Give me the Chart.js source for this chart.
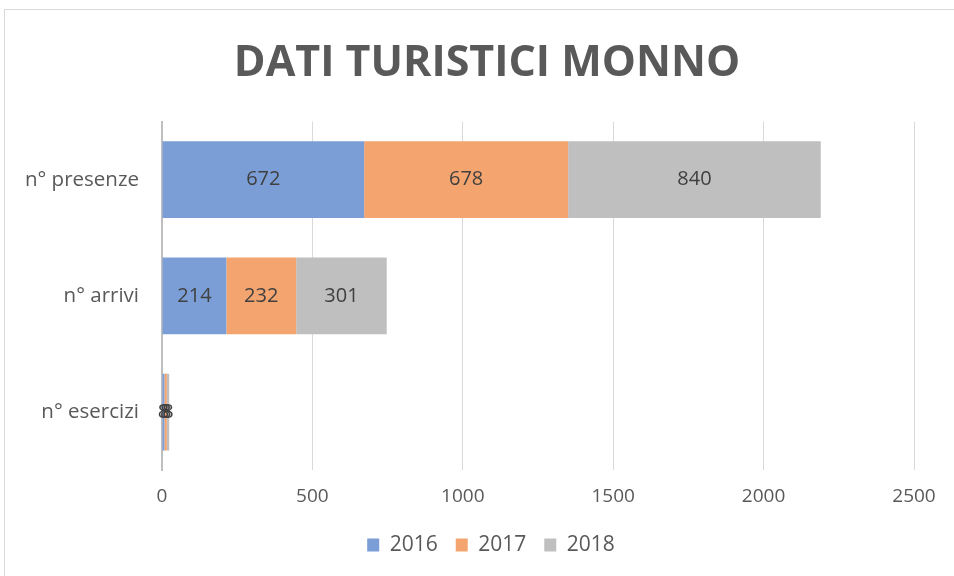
<!DOCTYPE html>
<html>
<head>
<meta charset="utf-8">
<script src="https://cdn.jsdelivr.net/npm/chart.js@4/dist/chart.umd.min.js"></script>
<style>
  html, body { margin: 0; padding: 0; background: #fff; }
  #wrap { position: relative; width: 954px; height: 576px; overflow: hidden; }
  #frame { position: absolute; left: 4px; top: 9px; width: 960px; height: 580px; border: 1px solid #d9d9d9; box-sizing: border-box; pointer-events: none; }
  canvas { position: absolute; left: 0; top: 0; }
</style>
</head>
<body>
<div id="wrap">
  <div id="frame"></div>
  <canvas id="chart" width="954" height="576"></canvas>
</div>
<script>
  // dati
  const categories = ['n° presenze', 'n° arrivi', 'n° esercizi'];
  const years = ['2016', '2017', '2018'];
  const values2016 = [672, 214, 8];
  const values2017 = [678, 232, 8];
  const values2018 = [840, 301, 8];
  const xTicks = [0, 500, 1000, 1500, 2000, 2500];

  const colors = ['#7b9ed7', '#f4a56f', '#bfbfbf'];
  const FONT = '"Open Sans", "Liberation Sans", sans-serif';
  const LEGEND_PAD = 18;
  const LEGEND_FONT = 21;

  // etichette dati al centro di ogni segmento
  const barLabels = {
    id: 'barLabels',
    afterDatasetsDraw(chart) {
      const ctx = chart.ctx;
      ctx.save();
      ctx.font = '20px ' + FONT;
      ctx.fillStyle = '#404040';
      ctx.textAlign = 'center';
      ctx.textBaseline = 'middle';
      chart.data.datasets.forEach((ds, i) => {
        chart.getDatasetMeta(i).data.forEach((bar, j) => {
          const cx = (bar.x + bar.base) / 2;
          ctx.fillText(String(ds.data[j]), cx, bar.y);
        });
      });
      ctx.restore();
    }
  };

  // piccoli ritocchi di posizione per titolo e legenda
  const nudge = {
    id: 'nudge',
    afterLayout(chart) {
      const t = chart.titleBlock;
      if (t) { t.left += 20; t.right += 20; }
      const l = chart.legend;
      if (l) {
        l.top = 545 - LEGEND_PAD - LEGEND_FONT / 2;
        l.bottom = l.top + 2 * LEGEND_PAD + LEGEND_FONT + 4;
        l.left += 24; l.right += 24;
      }
    }
  };

  const seriesData = [values2016, values2017, values2018];

  new Chart(document.getElementById('chart'), {
    type: 'bar',
    data: {
      labels: categories,
      datasets: years.map((y, i) => ({
        label: y,
        data: seriesData[i],
        backgroundColor: colors[i],
        borderWidth: 0,
        barPercentage: 0.66,
        categoryPercentage: 1.0,
      }))
    },
    options: {
      indexAxis: 'y',
      responsive: false,
      animation: false,
      layout: { padding: { left: 20, right: 40, top: 0, bottom: 33 } },
      scales: {
        x: {
          stacked: true,
          min: 0,
          max: 2500,
          afterBuildTicks: s => { s.ticks = xTicks.map(v => ({ value: v })); },
          grid: { color: '#d9d9d9', drawTicks: false, lineWidth: 1 },
          border: { display: false },
          ticks: {
            color: '#595959',
            font: { family: FONT, size: 19 },
            padding: 15,
            callback: v => String(v)
          }
        },
        y: {
          stacked: true,
          grid: { display: false, drawTicks: false },
          border: { display: true, color: '#bfbfbf', width: 2 },
          ticks: { color: '#595959', font: { family: FONT, size: 20.5 }, padding: 23 },
          afterFit: s => { s.width = 142; }
        }
      },
      plugins: {
        title: {
          display: true,
          text: 'DATI TURISTICI MONNO',
          color: '#595959',
          font: { family: FONT, size: 43, weight: 'bold' },
          padding: { top: 38, bottom: 32 }
        },
        legend: {
          position: 'bottom',
          maxHeight: 20,
          labels: {
            color: '#595959',
            font: { family: FONT, size: LEGEND_FONT },
            boxWidth: 12,
            boxHeight: 13,
            padding: LEGEND_PAD
          }
        },
        tooltip: { enabled: false }
      }
    },
    plugins: [barLabels, nudge]
  });
</script>
</body>
</html>
